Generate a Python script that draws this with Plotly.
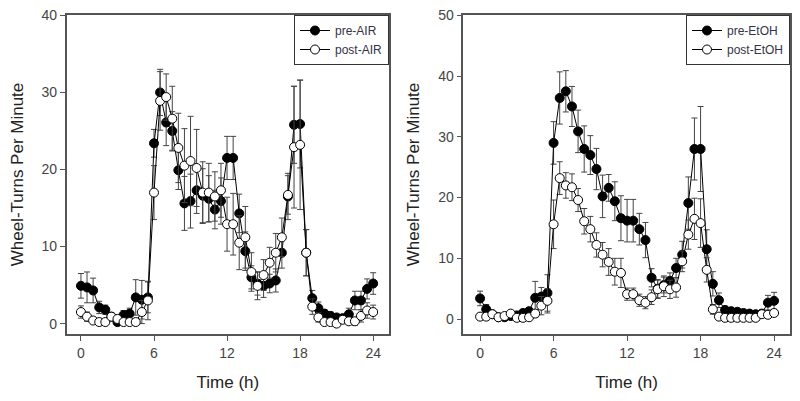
import plotly.graph_objects as go
from plotly.subplots import make_subplots

# time points, every half hour over the day
hours = [i * 0.5 for i in range(49)]

# AIR group (left panel)
pre_air = [4.9, 4.7, 4.3, 2.1, 1.8, 0.9, 0.2, 1.1, 1.3, 3.4, 3.1, 3.4,
           23.4, 30.0, 26.1, 25.0, 19.9, 15.6, 15.9, 17.3, 16.6, 16.2, 14.8, 15.9,
           21.5, 21.5, 14.3, 9.4, 6.0, 5.2, 4.9, 5.2, 5.6, 9.2, 16.5, 25.8,
           25.9, 9.2, 3.3, 2.0, 1.3, 1.0, 0.8, 0.7, 1.2, 3.0, 3.0, 4.5, 5.2]
pre_air_err = [1.6, 2.0, 1.6, 0.8, 0.6, 0.5, 0.3, 0.6, 0.7, 2.3, 2.5, 2.0,
               1.8, 3.0, 3.0, 2.5, 2.5, 3.5, 3.5, 3.0, 3.5, 3.0, 2.5, 3.0,
               2.8, 2.8, 2.5, 2.5, 1.5, 1.5, 1.5, 1.2, 1.5, 2.0, 3.0, 5.0,
               5.7, 3.0, 1.0, 0.8, 0.5, 0.5, 0.4, 0.5, 0.8, 1.2, 1.2, 1.3, 1.4]
post_air = [1.5, 0.9, 0.4, 0.2, 0.2, 0.9, 0.6, 0.2, 0.2, 0.2, 1.5, 3.0,
            17.0, 28.9, 29.4, 26.6, 22.8, 20.5, 21.1, 20.2, 17.0, 17.0, 16.5, 17.3,
            12.9, 12.9, 10.5, 11.2, 6.7, 4.9, 6.3, 7.9, 9.2, 11.2, 16.7, 22.9,
            23.2, 9.2, 2.2, 0.8, 0.2, 0.2, 0.0, 0.5, 0.3, 0.3, 1.0, 1.7, 1.5]
post_air_err = [0.8, 0.6, 0.3, 0.2, 0.2, 0.4, 0.4, 0.2, 0.2, 0.3, 1.5, 2.5,
                3.5, 3.8, 3.0, 4.2, 4.5, 4.8, 5.8, 5.0, 4.0, 3.8, 3.2, 3.5,
                3.5, 4.0, 3.5, 4.0, 2.5, 1.8, 2.0, 2.0, 2.5, 2.5, 2.5, 7.9,
                8.4, 3.0, 1.0, 0.6, 0.3, 0.3, 0.2, 0.4, 0.4, 0.5, 0.8, 1.0, 0.9]

# EtOH group (right panel)
pre_etoh = [3.4, 1.6, 0.8, 0.3, 0.3, 0.5, 0.6, 1.0, 1.3, 3.5, 3.7, 4.3,
            29.0, 36.4, 37.5, 35.0, 30.9, 28.0, 27.0, 24.7, 20.2, 21.6, 19.4, 16.6,
            16.2, 16.2, 14.8, 13.0, 6.8, 5.0, 5.6, 6.3, 8.4, 10.6, 19.1, 28.0,
            28.0, 11.5, 5.8, 3.1, 1.5, 1.3, 1.2, 1.0, 0.9, 0.8, 0.9, 2.7, 3.0]
pre_etoh_err = [1.2, 0.8, 0.4, 0.3, 0.3, 0.4, 0.4, 0.5, 0.6, 2.7, 1.5, 3.0,
                3.5, 4.3, 3.4, 3.3, 3.5, 3.8, 3.2, 3.4, 3.5, 2.2, 3.2, 3.7,
                3.5, 3.5, 2.6, 2.9, 1.5, 1.5, 1.3, 1.3, 1.6, 2.2, 4.3, 5.1,
                7.0, 3.2, 2.0, 1.2, 0.6, 0.5, 0.4, 0.4, 0.4, 0.4, 0.5, 1.2, 1.4]
post_etoh = [0.4, 0.4, 0.8, 0.3, 0.5, 0.9, 0.2, 0.2, 0.3, 0.9, 2.2, 3.0,
             15.6, 23.2, 22.0, 21.7, 19.6, 16.1, 14.8, 12.2, 10.6, 9.4, 7.8, 7.6,
             4.1, 4.1, 3.1, 2.7, 3.6, 4.9, 5.4, 4.9, 5.2, 9.5, 13.9, 16.5,
             15.8, 8.1, 1.6, 0.4, 0.2, 0.2, 0.2, 0.2, 0.2, 0.2, 0.8, 0.7, 1.0]
post_etoh_err = [0.3, 0.3, 0.4, 0.2, 0.3, 0.4, 0.2, 0.2, 0.3, 0.6, 1.5, 2.0,
                 4.0, 2.7, 2.1, 2.2, 1.9, 2.1, 2.1, 2.0, 2.0, 2.2, 2.2, 2.4,
                 1.0, 1.0, 1.0, 1.0, 1.2, 1.5, 1.7, 1.5, 1.6, 1.7, 2.4, 3.4,
                 4.0, 2.0, 0.8, 0.3, 0.2, 0.2, 0.2, 0.2, 0.2, 0.2, 0.4, 0.4, 0.5]

font = "Arial, Liberation Sans, sans-serif"

# the page body adds an 8px margin, so the figure is a bit smaller than the window
W, H = 792, 393
OFF = 8

fig = make_subplots(rows=1, cols=2)


def add_series(name, y, err, filled, col, legend):
    fig.add_trace(go.Scatter(
        x=hours, y=y, name=name, mode="lines+markers",
        line=dict(color="black", width=1),
        marker=dict(symbol="circle", size=9,
                    color="black" if filled else "white",
                    line=dict(color="black", width=1)),
        error_y=dict(type="data", array=err, color="#444444",
                     thickness=1, width=3),
        legend=legend), row=1, col=col)


add_series("pre-AIR", pre_air, pre_air_err, True, 1, "legend")
add_series("post-AIR", post_air, post_air_err, False, 1, "legend")
add_series("pre-EtOH", pre_etoh, pre_etoh_err, True, 2, "legend2")
add_series("post-EtOH", post_etoh, post_etoh_err, False, 2, "legend2")

axis_style = dict(showline=True, linecolor="#555555", linewidth=1.5, mirror=True,
                  showgrid=False, zeroline=False, ticks="outside", ticklen=5,
                  tickcolor="#555555", ticklabeloverflow="allow",
                  tickfont=dict(family=font, size=14, color="#444444"))

fig.update_xaxes(axis_style, tickvals=[0, 6, 12, 18, 24],
                 title=dict(text="Time (h)", standoff=17,
                            font=dict(family=font, size=17, color="#222222")))
fig.update_yaxes(axis_style,
                 title=dict(text="Wheel-Turns Per Minute", standoff=14,
                            font=dict(family=font, size=17, color="#222222")))


def px(x):
    return (x - OFF) / W


legend_style = dict(y=1, xanchor="right", yanchor="top",
                    bordercolor="#333333", borderwidth=1, bgcolor="white",
                    font=dict(family=font, size=12, color="#333344"),
                    tracegroupgap=0, itemwidth=30)

fig.update_layout(
    width=W, height=H,
    margin=dict(l=0, r=0, t=15 - OFF, b=H - (334 - OFF)),
    plot_bgcolor="white", paper_bgcolor="white",
    xaxis=dict(domain=[px(66.7), px(389)], range=[-1.17, 25.3]),
    xaxis2=dict(domain=[px(463.3), px(790)], range=[-1.37, 25.3]),
    yaxis=dict(range=[-1.35, 40.05], tickvals=[0, 10, 20, 30, 40]),
    yaxis2=dict(range=[-2.46, 50.06], tickvals=[0, 10, 20, 30, 40, 50]),
    legend=dict(legend_style, x=px(389)),
    legend2=dict(legend_style, x=px(790)),
)

fig.write_html("out.html")
